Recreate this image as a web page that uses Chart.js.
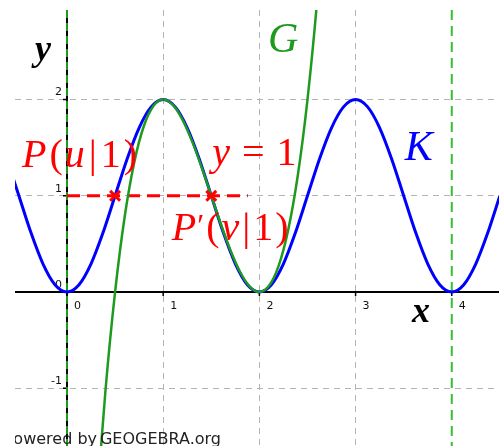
<!DOCTYPE html>
<html>
<head>
<meta charset="utf-8">
<script src="https://cdn.jsdelivr.net/npm/chart.js@4.4.1/dist/chart.umd.min.js"></script>
<style>
  body { margin: 0; background: #fff; }
</style>
</head>
<body>
<canvas id="grafica" width="499" height="446"></canvas>
<script>
// Kurve K (blau), Stuetzstellen in Achtelschritten
const kX = [-0.625, -0.5, -0.375, -0.25, -0.125, 0, 0.125, 0.25, 0.375, 0.5, 0.625, 0.75, 0.875,
    1, 1.125, 1.25, 1.375, 1.5, 1.625, 1.75, 1.875, 2, 2.125, 2.25, 2.375, 2.5, 2.625, 2.75, 2.875,
    3, 3.125, 3.25, 3.375, 3.5, 3.625, 3.75, 3.875, 4, 4.125, 4.25, 4.375, 4.5];
const kY = [1.383, 1, 0.617, 0.293, 0.076, 0, 0.076, 0.293, 0.617, 1, 1.383, 1.707, 1.924,
    2, 1.924, 1.707, 1.383, 1, 0.617, 0.293, 0.076, 0, 0.076, 0.293, 0.617, 1, 1.383, 1.707, 1.924,
    2, 1.924, 1.707, 1.383, 1, 0.617, 0.293, 0.076, 0, 0.076, 0.293, 0.617, 1];

// Kurve G (gruen)
const gX = [0.3, 0.4, 0.5, 0.6, 0.7, 0.8, 0.9, 1, 1.1, 1.2, 1.3, 1.4, 1.5, 1.6, 1.7, 1.8, 1.9,
    2, 2.1, 2.2, 2.3, 2.4, 2.5, 2.6, 2.7];
const gY = [-2.312, -1.024, 0, 0.784, 1.352, 1.728, 1.936, 2, 1.944, 1.792, 1.568, 1.296, 1,
    0.704, 0.432, 0.208, 0.056, 0, 0.064, 0.272, 0.648, 1.216, 2, 3.024, 4.312];

// Punkte P und P' und die Gerade y = 1
const puntoX = [0.5, 1.5];
const puntoY = [1, 1];
const rectaX = [0, 1.88];
const rectaY = [1, 1];

// senkrechte gestrichelte Geraden x = 0 und x = 4
const vertikalX = [0, 4];

// Achsenbeschriftung
const xTicks = [0, 1, 2, 3, 4];
const yTicks = [-1, 0, 1, 2];

function pares(xs, ys) {
    return xs.map((x, i) => ({ x: x, y: ys[i] }));
}

const VERDE = '#1e9b1e';
const VERDE_CLARO = '#33c033';
const ROJO = '#ff0000';
const AZUL = '#0000ff';

// Text mit gemischten Schriftschnitten (kursiv / aufrecht) nebeneinander setzen
function textoMat(ctx, partes, x, y, size, color) {
    let cx = x;
    ctx.fillStyle = color;
    ctx.textBaseline = 'alphabetic';
    ctx.textAlign = 'left';
    partes.forEach(p => {
        const txt = p[0], estilo = p[1], dx = p[2] || 0, dy = p[3] || 0, esc = p[4] || 1;
        ctx.font = estilo + ' ' + (size * esc) + 'px "Liberation Serif"';
        cx += dx;
        ctx.fillText(txt, cx, y + dy);
        cx += ctx.measureText(txt).width;
    });
}

const ejes = {
    id: 'ejes',
    beforeDatasetsDraw(chart) {
        const ctx = chart.ctx, a = chart.chartArea;
        const sx = chart.scales.x, sy = chart.scales.y;
        const x0 = sx.getPixelForValue(0), y0 = sy.getPixelForValue(0);
        ctx.save();
        ctx.beginPath();
        ctx.rect(a.left, a.top, a.right - a.left, a.bottom - a.top);
        ctx.clip();
        ctx.strokeStyle = '#000';
        ctx.lineWidth = 2;
        ctx.beginPath();
        ctx.moveTo(a.left, y0); ctx.lineTo(a.right, y0);
        ctx.moveTo(x0, a.top); ctx.lineTo(x0, a.bottom);
        ctx.stroke();

        // kleine Teilstriche
        ctx.lineWidth = 1.5;
        ctx.beginPath();
        xTicks.forEach(v => {
            const px = sx.getPixelForValue(v);
            ctx.moveTo(px, y0); ctx.lineTo(px, y0 + 4);
        });
        yTicks.forEach(v => {
            const py = sy.getPixelForValue(v);
            ctx.moveTo(x0 - 4, py); ctx.lineTo(x0, py);
        });
        ctx.stroke();

        // gestrichelte Geraden
        vertikalX.forEach((v, i) => {
            const px = sx.getPixelForValue(v);
            ctx.strokeStyle = i === 0 ? VERDE : VERDE_CLARO;
            ctx.lineWidth = 2;
            ctx.setLineDash(i === 0 ? [8, 5] : [10, 6]);
            ctx.beginPath();
            ctx.moveTo(px, a.top); ctx.lineTo(px, a.bottom);
            ctx.stroke();
        });
        ctx.restore();

        // Zahlen an den Achsen
        ctx.save();
        ctx.fillStyle = '#111';
        ctx.font = '11px "DejaVu Sans"';
        ctx.textBaseline = 'middle';
        ctx.textAlign = 'left';
        xTicks.forEach(v => {
            ctx.fillText(String(v), sx.getPixelForValue(v) + 7, y0 + 14);
        });
        ctx.textAlign = 'right';
        yTicks.forEach(v => {
            ctx.fillText(String(v), x0 - 5, sy.getPixelForValue(v) - 7);
        });
        ctx.restore();
    },
    afterDatasetsDraw(chart) {
        const ctx = chart.ctx, a = chart.chartArea;
        const sx = chart.scales.x, sy = chart.scales.y;
        const X = v => sx.getPixelForValue(v), Y = v => sy.getPixelForValue(v);
        ctx.save();

        // Achsennamen
        textoMat(ctx, [['y', 'italic bold']], X(-0.333), Y(2.41), 36, '#000');
        textoMat(ctx, [['x', 'italic bold']], X(3.586), Y(-0.312), 36, '#000');

        // Kurvennamen
        textoMat(ctx, [['G', 'italic']], X(2.09), Y(2.495), 42, VERDE);
        textoMat(ctx, [['K', 'italic']], X(3.51), Y(1.372), 42, AZUL);

        // Punkte und Gerade
        textoMat(ctx, [['P', 'italic'], ['(', '', 3], ['u', 'italic', 2], ['|', '', 4], ['1', '', 4], [')', '', 3]],
            X(-0.468), Y(1.30), 40, ROJO);
        textoMat(ctx, [['y', 'italic'], ['=', '', 12], ['1', '', 12]],
            X(1.51), Y(1.32), 40, ROJO);
        textoMat(ctx, [['P', 'italic'], ['\u2032', '', 1, -4, 0.8], ['(', '', 2], ['v', 'italic', 2], ['|', '', 3], ['1', '', 3], [')', '', 2]],
            X(1.09), Y(0.54), 40, ROJO);
        ctx.restore();

        // Schriftzug unten links, links abgeschnitten
        ctx.save();
        ctx.beginPath();
        ctx.rect(a.left, 0, chart.width, chart.height);
        ctx.clip();
        ctx.fillStyle = '#222';
        ctx.font = '16px "DejaVu Sans"';
        ctx.textAlign = 'right';
        ctx.textBaseline = 'alphabetic';
        ctx.fillText('powered by', 97, 444);
        ctx.fillText('GEOGEBRA.org', 221, 444);
        ctx.restore();
    }
};

function colorRejilla(c) {
    if (!c.tick) return 'transparent';
    const v = c.tick.value;
    if (v === 0 || v === 4) return 'transparent';
    return '#b4b4b4';
}

const ctx = document.getElementById('grafica').getContext('2d');
new Chart(ctx, {
    type: 'scatter',
    data: {
        datasets: [
            {
                label: 'Punkte',
                data: pares(puntoX, puntoY),
                pointStyle: 'crossRot',
                pointRadius: 7,
                pointBorderWidth: 3,
                borderColor: ROJO,
                backgroundColor: ROJO,
                showLine: false,
                order: 0
            },
            {
                label: 'G',
                data: pares(gX, gY),
                showLine: true,
                borderColor: VERDE,
                borderWidth: 2.5,
                pointRadius: 0,
                cubicInterpolationMode: 'monotone',
                order: 1
            },
            {
                label: 'K',
                data: pares(kX, kY),
                showLine: true,
                borderColor: AZUL,
                borderWidth: 3,
                pointRadius: 0,
                cubicInterpolationMode: 'monotone',
                order: 2
            },
            {
                label: 'y = 1',
                data: pares(rectaX, rectaY),
                showLine: true,
                borderColor: ROJO,
                borderWidth: 3,
                borderDash: [13, 7],
                pointRadius: 0,
                order: 3
            }
        ]
    },
    options: {
        responsive: false,
        animation: false,
        events: [],
        layout: { autoPadding: false, padding: { left: 15, top: 10, right: 0, bottom: 0 } },
        plugins: { legend: { display: false }, tooltip: { enabled: false } },
        scales: {
            x: {
                type: 'linear',
                min: -0.5405,
                max: 4.491,
                afterBuildTicks: s => { s.ticks = [1, 2, 3].map(v => ({ value: v })); },
                afterFit: s => { s.height = 0; },
                ticks: { display: false },
                grid: { color: colorRejilla, lineWidth: 1, drawTicks: false },
                border: { display: false, dash: [6, 5] }
            },
            y: {
                type: 'linear',
                min: -1.601,
                max: 2.931,
                afterBuildTicks: s => { s.ticks = [-1, 1, 2].map(v => ({ value: v })); },
                afterFit: s => { s.width = 0; },
                ticks: { display: false },
                grid: { color: colorRejilla, lineWidth: 1, drawTicks: false },
                border: { display: false, dash: [6, 5] }
            }
        }
    },
    plugins: [ejes]
});
</script>
</body>
</html>
